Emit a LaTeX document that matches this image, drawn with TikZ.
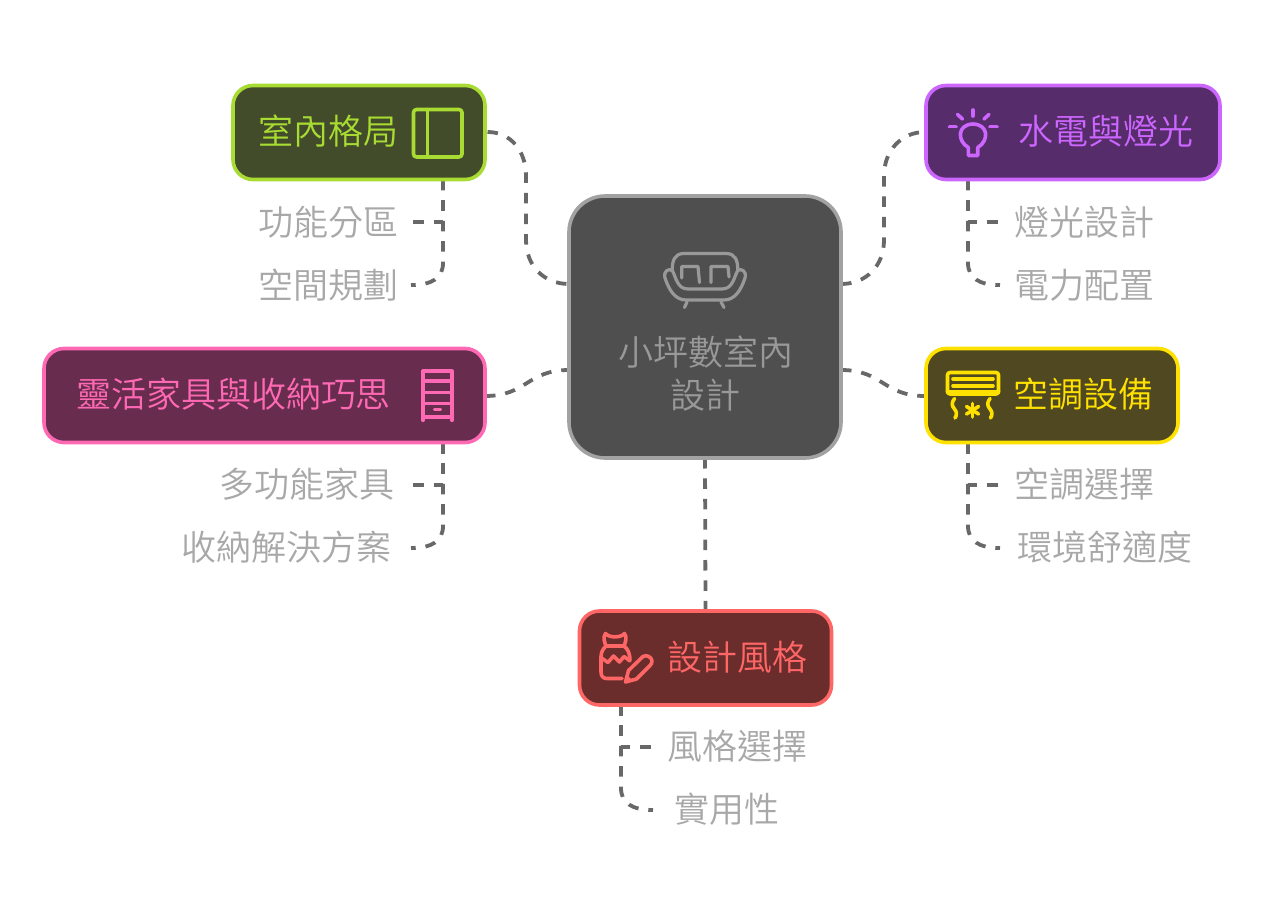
\documentclass[tikz,border=0pt]{standalone}
\usepackage{fontspec}
\setmainfont{Noto Sans CJK TC DemiLight}
\usetikzlibrary{backgrounds}
\definecolor{edgegray}{HTML}{686868}
\definecolor{leafgray}{HTML}{A8A8A8}
\definecolor{cgreen}{RGB}{168,220,50}
\definecolor{cgreenf}{RGB}{66,75,42}
\definecolor{cpurple}{RGB}{204,102,255}
\definecolor{cpurplef}{RGB}{86,44,106}
\definecolor{cpink}{RGB}{255,105,180}
\definecolor{cpinkf}{RGB}{103,44,78}
\definecolor{cyellow}{RGB}{255,225,0}
\definecolor{cyellowf}{RGB}{80,72,32}
\definecolor{cred}{RGB}{255,102,102}
\definecolor{credf}{RGB}{107,44,44}
\definecolor{cgray}{HTML}{999999}
\definecolor{cgrayline}{HTML}{A2A2A2}
\definecolor{cgrayf}{HTML}{4F4F4F}
\tikzset{
  box/.style={draw,rounded corners=20pt,line width=3.6pt,inner sep=0pt,outer sep=0pt},
  lbl/.style={inner sep=0pt,outer sep=0pt,text=leafgray,font=\fontsize{35pt}{42pt}\selectfont},
  edge/.style={draw=edgegray,line width=3.8pt,dash pattern=on 10.5pt off 9.9pt},
  ico/.style={line width=3.6pt,line cap=round,line join=round},
}
\begin{document}
\begin{tikzpicture}[x=1pt,y=-1pt]
\useasboundingbox (0,0) rectangle (1264,917);
% boxes
\node[box,draw=cgrayline,fill=cgrayf,rounded corners=36pt,minimum width=272pt,minimum height=262pt] (center) at (705,327) {};
\node[box,draw=cgreen,fill=cgreenf,minimum width=252pt,minimum height=94pt] (room) at (359,132.5) {};
\node[box,draw=cpurple,fill=cpurplef,minimum width=294pt,minimum height=94pt] (power) at (1073,132.5) {};
\node[box,draw=cpink,fill=cpinkf,minimum width=441pt,minimum height=94pt] (furn) at (264.5,395.5) {};
\node[box,draw=cyellow,fill=cyellowf,minimum width=252pt,minimum height=94pt] (air) at (1052,395.5) {};
\node[box,draw=cred,fill=credf,minimum width=252pt,minimum height=94pt] (style) at (705.5,658) {};
% titles
\node[lbl,text=cgray] (c1) at (705.5,352) {小坪數室內};
\node[lbl,text=cgray] (c2) at (705.5,395) {設計};
\node[lbl,text=cgreen] (t1) at (328,131.5) {室內格局};
\node[lbl,text=cpurple] (t2) at (1105.5,131.5) {水電與燈光};
\node[lbl,text=cpink] (t3) at (233.5,394.5) {靈活家具與收納巧思};
\node[lbl,text=cyellow] (t4) at (1083.5,394.5) {空調設備};
\node[lbl,text=cred] (t5) at (737.5,657) {設計風格};
% leaves
\node[lbl] (a1) at (328.5,222) {功能分區};
\node[lbl] (a2) at (328.5,285) {空間規劃};
\node[lbl] (b1) at (1084,222) {燈光設計};
\node[lbl] (b2) at (1084,285) {電力配置};
\node[lbl] (d1) at (307,484) {多功能家具};
\node[lbl] (d2) at (286,547) {收納解決方案};
\node[lbl] (e1) at (1084,484) {空調選擇};
\node[lbl] (e2) at (1105,547) {環境舒適度};
\node[lbl] (f1) at (737.5,746) {風格選擇};
\node[lbl] (f2) at (726.5,809) {實用性};
% connector free ends
\coordinate (ra) at (487.5,132);
\coordinate (pa) at (925,132);
\coordinate (ca) at (569,284);
\coordinate (cb) at (841,284);
\coordinate (cc) at (569,370);
\coordinate (cd) at (841,370);
\coordinate (fa) at (485,396);
\coordinate (aa) at (925,396);
\begin{pgfonlayer}{background}
\draw[edge,dash pattern=on 10.5pt off 10.1pt] (ra) .. controls (510,132) and (526,150) .. (526,176) -- (526,240) .. controls (526,266) and (544,284) .. (ca);
\draw[edge] (cb) .. controls (866,284) and (884,266) .. (884,240) -- (884,176) .. controls (884,150) and (902,132) .. (pa);
\draw[edge] (fa) .. controls (527,396) and (527,370) .. (cc);
\draw[edge] (cd) .. controls (883,370) and (883,396) .. (aa);
\draw[edge] (center.south) -- (style.north);
\draw[edge] (443,180) -- (443,222) -- (411,222);
\draw[edge] (443,180) -- (443,263) .. controls (443,278) and (432,285) .. (411,285);
\draw[edge] (968,180) -- (968,222) -- (1000,222);
\draw[edge] (968,180) -- (968,263) .. controls (968,278) and (979,285) .. (1000,285);
\draw[edge] (443,443) -- (443,485) -- (411,485);
\draw[edge] (443,443) -- (443,526) .. controls (443,541) and (432,548) .. (411,548);
\draw[edge] (968,443) -- (968,485) -- (1000,485);
\draw[edge] (968,443) -- (968,526) .. controls (968,541) and (979,548) .. (1000,548);
\draw[edge] (621,705) -- (621,747) -- (653,747);
\draw[edge] (621,705) -- (621,788) .. controls (621,803) and (632,810) .. (653,810);
\end{pgfonlayer}
% layout icon
\draw[ico,draw=cgreen,rounded corners=3pt] (413.5,109.5) rectangle (462,157);
\draw[ico,draw=cgreen] (427.5,109.5) -- (427.5,157);
% bulb
\begin{scope}[ico,draw=cpurple]
\draw (973,110) -- (973,116);
\draw (957.5,114.5) -- (962.5,119);
\draw (989,114.5) -- (984,119);
\draw (949.5,126.7) -- (956,126.7);
\draw (990,126.7) -- (997,126.7);
\draw (968.3,147.5) .. controls (957,141) and (957,124.5) .. (973,124) .. controls (989,124.5) and (989,141) .. (977.7,147.5) -- (977.7,155.5) -- (968.3,155.5) -- cycle;
\end{scope}
% air conditioner
\begin{scope}[ico,draw=cyellow]
\draw[rounded corners=2.5pt] (947.5,372.5) rectangle (998.5,394);
\draw (953,379) -- (993,379);
\draw (953,385.7) -- (993,385.7);
\draw (947.5,392) -- (998.5,392);
\draw (954.5,398.5) .. controls (951,403) and (952,406) .. (954.5,409) .. controls (957,412) and (957,415) .. (955,418);
\draw (990,398.5) .. controls (986.5,403) and (987.5,406) .. (990,409) .. controls (992.5,412) and (992.5,415) .. (990.5,418);
\draw (972.5,403.5) -- (972.5,417);
\draw (966.5,406.5) -- (978.5,414);
\draw (978.5,406.5) -- (966.5,414);
\end{scope}
% sofa
\begin{scope}[ico,draw=cgray,line width=3.2pt]
\draw (672.3,270.5) .. controls (672,260) and (675,253.5) .. (684,253.5) -- (726,253.5) .. controls (735,253.5) and (738,260) .. (737.7,270.5);
\draw (672.3,270.5) .. controls (669,268) and (663,271) .. (665,278) .. controls (669,290) and (675,300) .. (686,300) -- (724,300) .. controls (735,300) and (741,290) .. (745,278) .. controls (747,271) and (741,268) .. (737.7,270.5) .. controls (734,277) and (733,289) .. (722,289) -- (688,289) .. controls (677,289) and (676,277) .. (672.3,270.5);
\draw (681.7,278) -- (681.7,266.5) -- (698,266.5) -- (699.5,282.5);
\draw (711,282.5) -- (711,266.5) -- (728,266.5) -- (729,277);
\draw (687,302) -- (684.5,307.5);
\draw (721,302) -- (724,307.5);
\end{scope}
% dresser
\begin{scope}[ico,draw=cpink,line width=3.2pt]
\draw (423,420.5) -- (423,371) -- (452,371) -- (452,420.5);
\draw (423,381) -- (452,381);
\draw (423,392.5) -- (452,392.5);
\draw (423,403.5) -- (452,403.5);
\draw (423,417) -- (452,417);
\draw (434.5,409.5) -- (440.5,409.5);
\end{scope}
% dress and pencil
\begin{scope}[ico,draw=cred]
\draw (606,646) .. controls (604,641) and (603,637) .. (605.5,633.5) .. controls (609,638) and (621,638) .. (624.5,633.5) .. controls (627,637) and (626,641) .. (624,646) -- cycle;
\draw (606,646) .. controls (603,649) and (601,652) .. (601,657) -- (601,672) .. controls (601,676) and (603,678.5) .. (607,678.5) -- (622,678.5);
\draw (624,646) .. controls (628,649) and (630,654) .. (630,660);
\draw (601.5,658) -- (608,662.5) -- (613.5,656) -- (619.5,662) -- (624,656.5) -- (630,661);
\draw (625.5,682) -- (628.5,670.5) -- (643,656.5) .. controls (646.5,654) and (652,657.5) .. (652,661) .. controls (652,663) and (651,664.5) .. (650,665.5) -- (636.5,679) -- cycle;
\fill[cred] (625.5,682) -- (627.5,675.5) -- (632,680) -- cycle;
\end{scope}
\end{tikzpicture}
\end{document}
